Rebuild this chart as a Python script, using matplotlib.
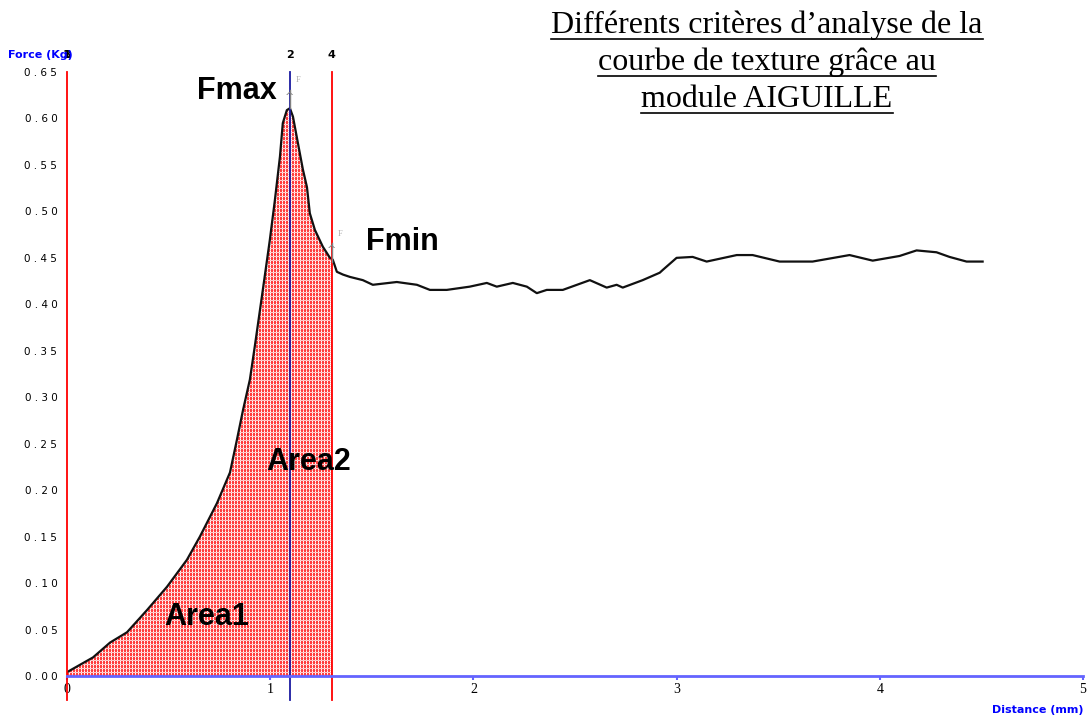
import matplotlib.pyplot as plt
from matplotlib.lines import Line2D
import numpy as np

# texture curve: distance (mm) / force (kg)
distance = [0.0, 0.015, 0.128, 0.212, 0.295, 0.394, 0.492, 0.590, 0.654, 0.738,
            0.802, 0.836, 0.866, 0.900, 0.925, 0.964, 0.998, 1.023, 1.048, 1.062,
            1.082, 1.097, 1.112, 1.136, 1.161, 1.181, 1.195, 1.220, 1.259, 1.294,
            1.308, 1.328, 1.358, 1.392, 1.456, 1.505, 1.623, 1.722, 1.786, 1.869,
            1.982, 2.066, 2.115, 2.194, 2.263, 2.312, 2.361, 2.440, 2.573, 2.656,
            2.705, 2.735, 2.833, 2.917, 2.932, 3.000, 3.079, 3.148, 3.296, 3.374,
            3.507, 3.669, 3.851, 3.965, 4.097, 4.181, 4.279, 4.343, 4.427, 4.506]
force = [0.004, 0.006, 0.020, 0.036, 0.047, 0.071, 0.096, 0.125, 0.150, 0.186,
         0.219, 0.254, 0.286, 0.319, 0.356, 0.416, 0.469, 0.512, 0.559, 0.595,
         0.609, 0.611, 0.602, 0.574, 0.545, 0.526, 0.498, 0.480, 0.462, 0.450,
         0.448, 0.435, 0.432, 0.4295, 0.426, 0.421, 0.424, 0.421, 0.4155, 0.4155,
         0.419, 0.423, 0.419, 0.423, 0.419, 0.412, 0.4155, 0.4155, 0.426, 0.418,
         0.421, 0.418, 0.426, 0.434, 0.437, 0.450, 0.451, 0.446, 0.453, 0.453,
         0.446, 0.446, 0.453, 0.447, 0.452, 0.458, 0.456, 0.451, 0.446, 0.446]

# cursors: 1/3 = start, 2 = Fmax, 4 = Fmin
x_start = 0.0
x_fmax = 1.097
x_fmin = 1.303
f_fmax = 0.611
f_fmin = 0.446

yticks = np.arange(0, 0.651, 0.05)
xticks = [0, 1, 2, 3, 4, 5]

dist = np.array(distance)
frc = np.array(force)

W, H = 1088, 720
ax_w, ax_h = 1016, 604
fig = plt.figure(figsize=(W / 100, H / 100), dpi=100)
ax = fig.add_axes([67/W, 44/H, ax_w/W, ax_h/H])
ax.set_xlim(0, 5)
ax.set_ylim(0, 0.65)

axis_blue = '#6464ff'

# area under the curve up to the Fmin cursor, filled with a dotted red grid texture
xs = np.linspace(0, x_fmin, 400)
ys = np.interp(xs, dist, frc)
area = ax.fill_between(xs, 0, ys, facecolor='none', linewidth=0)
ncols = int(round(x_fmin / 5 * ax_w)) + 1
nrows = ax_h
cc, rr = np.meshgrid(np.arange(ncols), np.arange(nrows))
tex = np.ones((nrows, ncols, 3))
tex[:] = [1.0, 0.25, 0.25]
light_col = (cc % 3 == 2)
light_row = (rr % 4 == 3)
tex[light_col & (rr % 2 == 0)] = [1.0, 1.0, 1.0]
tex[light_col & (rr % 2 == 1)] = [1.0, 0.75, 0.75]
tex[light_row & ~light_col] = [1.0, 0.8, 0.8]
img = ax.imshow(tex, extent=[0, ncols * 5 / ax_w, 0, 0.65], origin='lower',
                interpolation='nearest', aspect='auto', zorder=2)
img.set_clip_path(area.get_paths()[0], transform=ax.transData)
ax.set_xlim(0, 5)
ax.set_ylim(0, 0.65)

ax.plot(dist, frc, color='#111111', lw=1.6, zorder=5)

# cursor lines, running a bit below the axis
for xv, col in [(x_start, 'red'), (x_fmax, '#1a1aa0'), (x_fmin, 'red')]:
    ax.plot([xv, xv], [-0.026, 0.65], color=col, lw=1.3, clip_on=False, zorder=6)

# cursor numbers
ax.text(x_start, 0.668, '3', ha='center', va='center', fontsize=8, fontweight='bold', zorder=8)
ax.text(x_start, 0.668, '1', ha='center', va='center', fontsize=8, fontweight='bold', zorder=8)
ax.text(x_fmax, 0.668, '2', ha='center', va='center', fontsize=8, fontweight='bold')
ax.text(x_fmin, 0.668, '4', ha='center', va='center', fontsize=8, fontweight='bold')

# small F markers above the picked points
for xv, fv in [(x_fmax, f_fmax), (x_fmin, f_fmin)]:
    ax.plot([xv, xv], [fv, fv + 0.02], color='gray', lw=1, zorder=7)
    ax.text(xv, fv + 0.012, '^', color='gray', ha='center', va='center', fontsize=8, zorder=7)
    ax.text(xv + 0.03, fv + 0.03, 'F', color='#aaaaaa', ha='left', va='center', fontsize=6,
            family='Liberation Serif')

# annotations
big = dict(fontsize=22, fontweight='bold', family='Liberation Sans', color='black', zorder=9)
ax.text(0.64, 0.630, 'Fmax', ha='left', va='center', **big)
ax.text(1.47, 0.467, 'Fmin', ha='left', va='center', **big)
ax.text(0.98, 0.230, 'Area2', ha='left', va='center', **big)
ax.text(0.48, 0.063, 'Area1', ha='left', va='center', **big)

# axes styling
for s in ['left', 'top', 'right']:
    ax.spines[s].set_visible(False)
ax.spines['bottom'].set_color(axis_blue)
ax.spines['bottom'].set_linewidth(2)
ax.spines['bottom'].set_zorder(7)
ax.set_xticks(xticks)
ax.set_xticklabels([str(v) for v in xticks], family='Liberation Serif', fontsize=10)
ax.tick_params(axis='x', colors=axis_blue, length=3, width=1.5, pad=2, labelcolor='black')
ax.set_yticks(yticks)
ax.set_yticklabels([' . '.join([f'{v:.2f}'[0], ' '.join(f'{v:.2f}'[2:])]) for v in yticks],
                   fontsize=7.5)
ax.tick_params(axis='y', length=0, pad=7)

fig.text(8/W, 1 - 55/H, 'Force (Kg)', color='blue', fontsize=8, fontweight='bold',
         ha='left', va='center', zorder=1)
fig.text(1083/W, 1 - 710/H, 'Distance (mm)', color='blue', fontsize=8, fontweight='bold',
         ha='right', va='center')

# underlined title, one line at a time
title_lines = ['Différents critères d’analyse de la',
               'courbe de texture grâce au',
               'module AIGUILLE']
baselines = [33, 70, 107]
texts = []
for line, b in zip(title_lines, baselines):
    t = fig.text(767/W, 1 - b/H, line, ha='center', va='baseline', fontsize=23,
                 family='Liberation Serif')
    texts.append((t, b))
fig.canvas.draw()
renderer = fig.canvas.get_renderer()
for t, b in texts:
    bb = t.get_window_extent(renderer)
    yu = 1 - (b + 6) / H
    fig.add_artist(Line2D([bb.x0 / W, bb.x1 / W], [yu, yu], color='black', lw=1.2))

fig.savefig('out.png', dpi=100)
